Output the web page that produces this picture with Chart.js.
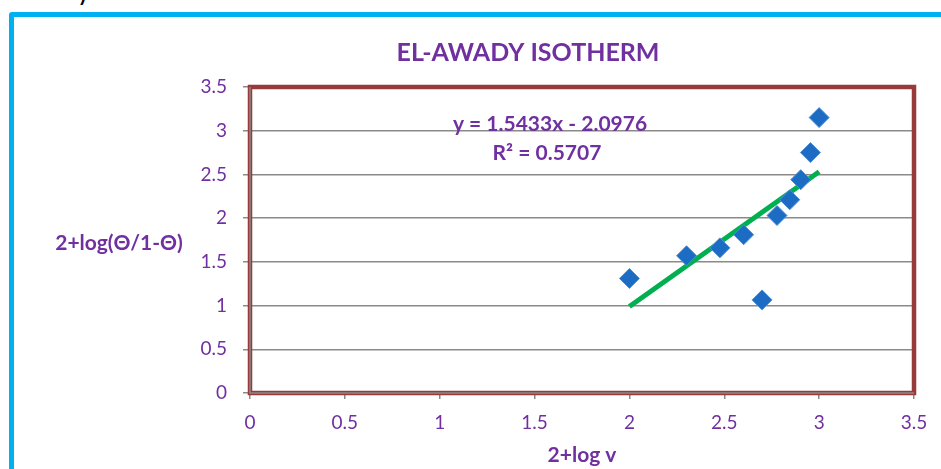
<!DOCTYPE html>
<html>
<head>
<meta charset="utf-8">
<script src="https://cdn.jsdelivr.net/npm/chart.js@4.4.1/dist/chart.umd.min.js"></script>
<style>
  html, body { margin: 0; padding: 0; background: #fff; overflow: hidden; }
  #wrap { position: relative; width: 941px; height: 469px; overflow: hidden; }
  #frame { position: absolute; left: 9px; top: 12px; width: 1000px; height: 520px;
           border: 5px solid #00B0F0; border-radius: 3px; box-sizing: border-box; }
  #cut { position: absolute; left: 78px; top: -19px; font: bold 20px Lato, sans-serif; color: #000; }
  canvas { position: absolute; left: 0; top: 0; }
</style>
</head>
<body>
<div id="wrap">
  <div id="frame"></div>
  <div id="cut">y</div>
  <canvas id="c" width="941" height="469"></canvas>
</div>
<script>
const chartTitle = 'EL-AWADY ISOTHERM';
const xAxisTitle = '2+log v';
const yAxisTitle = '2+log(\u0398/1-\u0398)';
const equationText = 'y = 1.5433x - 2.0976';
const r2Text = 'R\u00B2 = 0.5707';
const xValues = [2.0, 2.301, 2.477, 2.602, 2.699, 2.778, 2.845, 2.903, 2.954, 3.0];
const yValues = [1.31, 1.57, 1.66, 1.81, 1.065, 2.03, 2.21, 2.44, 2.75, 3.15];
const trendX = [2.0, 3.0];
const trendY = [0.99, 2.53];
const xTickLabels = ['0', '0.5', '1', '1.5', '2', '2.5', '3', '3.5'];
const yTickLabels = ['0', '0.5', '1', '1.5', '2', '2.5', '3', '3.5'];

const PURPLE = '#7030A0';
const FONT = 'Lato, "Open Sans", sans-serif';

const points = xValues.map((x, i) => ({ x: x, y: yValues[i] }));
const trend = trendX.map((x, i) => ({ x: x, y: trendY[i] }));

const deco = {
  id: 'deco',
  beforeDatasetsDraw(chart) {
    const { ctx, chartArea: a } = chart;
    ctx.save();
    ctx.strokeStyle = '#983A3A';
    ctx.lineWidth = 4.5;
    ctx.strokeRect(a.left, a.top, a.right - a.left, a.bottom - a.top);
    ctx.strokeStyle = '#8A8A8A';
    ctx.lineWidth = 1.5;
    ctx.beginPath();
    ctx.moveTo(a.left, a.top);
    ctx.lineTo(a.left, a.bottom);
    ctx.lineTo(a.right, a.bottom);
    ctx.stroke();
    ctx.restore();
  },
  afterDraw(chart) {
    const { ctx } = chart;
    ctx.save();
    ctx.fillStyle = PURPLE;
    ctx.textAlign = 'center';
    ctx.textBaseline = 'middle';
    ctx.font = 'bold 25px ' + FONT;
    ctx.fillText(chartTitle, 528, 53);
    ctx.font = 'bold 21px ' + FONT;
    ctx.fillText(equationText, 550, 124);
    ctx.fillText(r2Text, 547, 153);
    ctx.fillText(yAxisTitle, 119, 243);
    ctx.restore();
  }
};

new Chart(document.getElementById('c'), {
  type: 'scatter',
  data: {
    datasets: [
      {
        label: 'data',
        data: points,
        pointStyle: 'rectRot',
        pointRadius: 10,
        pointHoverRadius: 10,
        backgroundColor: '#1C6CC4',
        borderColor: '#4F8ED6',
        borderWidth: 1,
        order: 1
      },
      {
        label: 'trend',
        data: trend,
        showLine: true,
        borderColor: '#00B050',
        borderWidth: 5,
        pointRadius: 0,
        fill: false,
        order: 2
      }
    ]
  },
  plugins: [deco],
  options: {
    responsive: false,
    animation: false,
    layout: { padding: { left: 14, top: 87, right: 27, bottom: 0 } },
    plugins: { legend: { display: false }, tooltip: { enabled: false }, title: { display: false } },
    scales: {
      x: {
        type: 'linear', min: 0, max: 3.5,
        afterFit: (s) => { s.height = 76; },
        border: { display: false },
        grid: { drawOnChartArea: false, drawTicks: true, tickLength: 6, color: '#8A8A8A', lineWidth: 1.5 },
        ticks: {
          stepSize: 0.5, padding: 12, color: PURPLE, font: { family: FONT, size: 19 },
          maxRotation: 0, autoSkip: false,
          callback: (v, i) => xTickLabels[i]
        },
        title: { display: true, text: xAxisTitle, color: PURPLE, font: { family: FONT, size: 21, weight: 'bold' }, padding: { top: 0, bottom: 1 } }
      },
      y: {
        type: 'linear', min: 0, max: 3.5,
        afterFit: (s) => { s.width = 236; },
        border: { display: false },
        grid: { drawTicks: true, tickLength: 7, color: '#8A8A8A', lineWidth: 1.5 },
        ticks: {
          stepSize: 0.5, padding: 16, color: PURPLE, font: { family: FONT, size: 19 },
          autoSkip: false,
          callback: (v, i) => yTickLabels[i]
        }
      }
    }
  }
});
</script>
</body>
</html>
